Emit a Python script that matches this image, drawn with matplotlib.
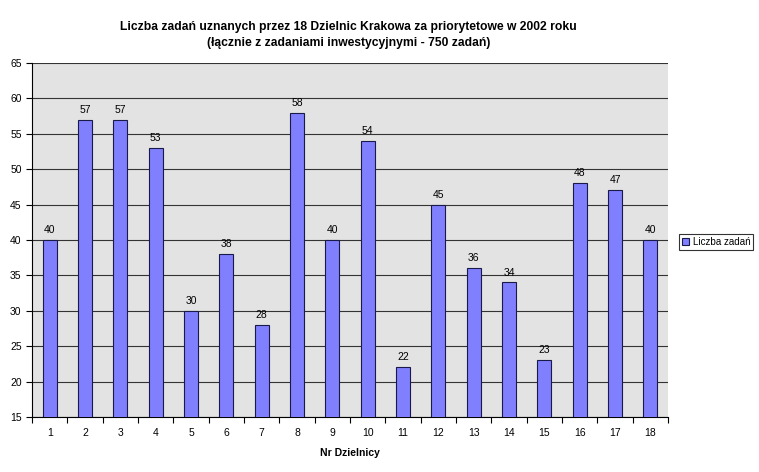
import numpy as np
import matplotlib.pyplot as plt

# dane: liczba zadan w dzielnicach
dzielnice = [str(i) for i in range(1, 19)]
liczba_zadan = [40, 57, 57, 53, 30, 38, 28, 58, 40, 54, 22, 45, 36, 34, 23, 48, 47, 40]
y_ticks = list(range(15, 70, 5))

plt.rcParams['font.family'] = ['Liberation Sans', 'DejaVu Sans']

fig = plt.figure(figsize=(7.59, 4.72), dpi=100)
ax = fig.add_axes([0.0422, 0.1165, 0.838, 0.75])
ax.set_facecolor('#E3E3E3')

x = np.arange(len(dzielnice))
bars = ax.bar(x, liczba_zadan, width=0.4, color='#8080FF', edgecolor='#1a1a4a',
              linewidth=0.8, label='Liczba zadań', zorder=3)
for xi, v in zip(x, liczba_zadan):
    ax.text(xi, v + 0.7, str(v), ha='center', va='bottom', fontsize=7.5, zorder=4)

ax.set_xlim(-0.5, len(dzielnice) - 0.5)
ax.set_ylim(15, 65)
ax.set_yticks(y_ticks)
ax.yaxis.grid(True, color='#333333', linewidth=0.8, zorder=1)
ax.set_axisbelow(True)

ax.set_xticks(x)
ax.set_xticklabels(dzielnice, fontsize=7.5)
ax.set_xticks(np.arange(-0.5, len(dzielnice)), minor=True)
ax.tick_params(axis='x', which='major', length=0, pad=8)
ax.tick_params(axis='x', which='minor', length=4, width=0.8)
ax.tick_params(axis='y', labelsize=7.5, length=4, width=0.8)

for s in ['top', 'right']:
    ax.spines[s].set_visible(False)
for s in ['left', 'bottom']:
    ax.spines[s].set_linewidth(0.8)

ax.set_xlabel('Nr Dzielnicy', fontsize=7.5, fontweight='bold', labelpad=7)

fig.text(0.459, 0.925, 'Liczba zadań uznanych przez 18 Dzielnic Krakowa za priorytetowe w 2002 roku\n'
         '(łącznie z zadaniami inwestycyjnymi - 750 zadań)',
         ha='center', va='center', fontsize=8.7, fontweight='bold', linespacing=1.45)

leg = fig.legend(loc='center left', bbox_to_anchor=(0.888, 0.4875), fontsize=7.1,
                 frameon=True, fancybox=False, edgecolor='black', handlelength=0.7,
                 handleheight=0.7, handletextpad=0.4, borderpad=0.3)
leg.get_frame().set_linewidth(0.8)

plt.savefig('out.png', dpi=100)
